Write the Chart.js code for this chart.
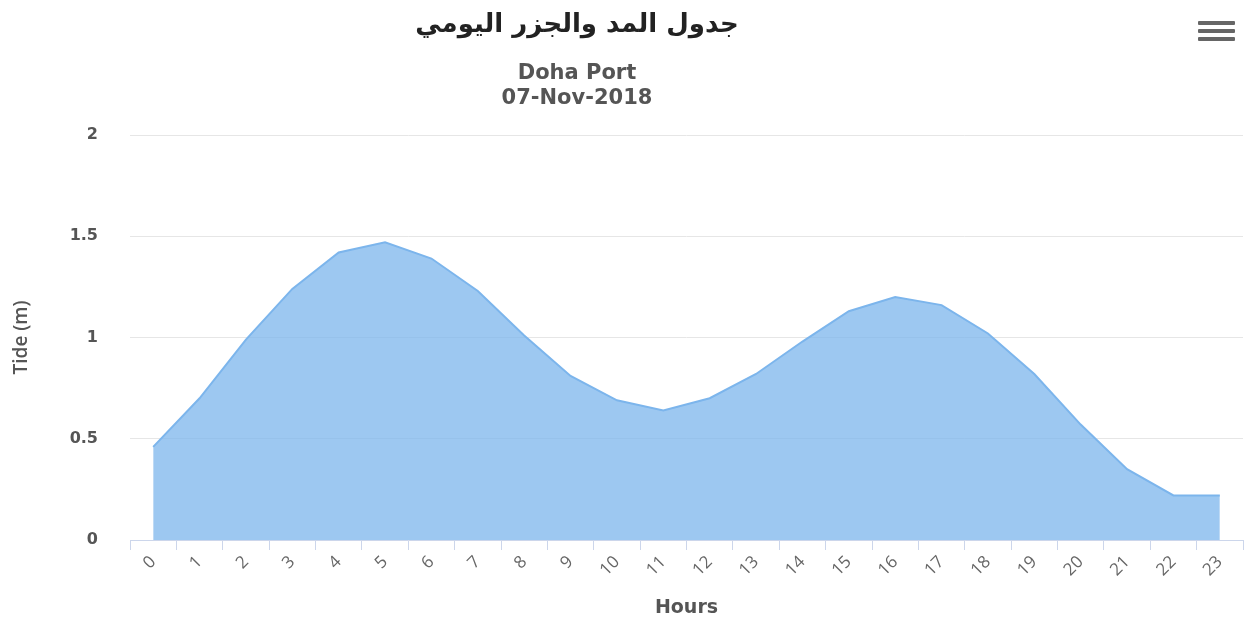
<!DOCTYPE html>
<html>
<head>
    <meta charset="utf-8">
    <title>جدول المد والجزر اليومي</title>
    <script src="https://cdn.jsdelivr.net/npm/chart.js"></script>
    <style>
        html, body {
            margin: 0;
            padding: 0;
            background: #fff;
        }
        .wrap {
            position: relative;
            width: 1254px;
            height: 626px;
        }
        .menu {
            position: absolute;
            left: 1198px;
            top: 21px;
            width: 37px;
        }
        .menu span {
            display: block;
            height: 4px;
            margin-bottom: 4px;
            background: #666;
            border-radius: 1px;
        }
    </style>
</head>
<body>
    <div class="wrap">
        <canvas id="tideChart" width="1254" height="626"></canvas>
        <div class="menu"><span></span><span></span><span></span></div>
    </div>

    <script>
        // Ore del giorno e altezza della marea (m)
        const hours = ['0', '1', '2', '3', '4', '5', '6', '7', '8', '9', '10', '11',
                       '12', '13', '14', '15', '16', '17', '18', '19', '20', '21', '22', '23'];
        const tide = [0.46, 0.70, 0.99, 1.24, 1.42, 1.47, 1.39, 1.23, 1.01, 0.81, 0.69, 0.64,
                      0.70, 0.82, 0.98, 1.13, 1.20, 1.16, 1.02, 0.82, 0.57, 0.35, 0.22, 0.22];
        const yTicks = [0, 0.5, 1, 1.5, 2];

        const titleText = 'جدول المد والجزر اليومي';
        const subtitleLines = ['Doha Port', '07-Nov-2018'];

        // Titolo e sottotitolo disegnati a mano per poterli centrare dove servono
        const headerPlugin = {
            id: 'header',
            afterDraw(chart) {
                const c = chart.ctx;
                c.save();
                c.textAlign = 'center';
                c.textBaseline = 'middle';
                c.fillStyle = '#222';
                c.font = 'bold 26px "DejaVu Sans", sans-serif';
                c.fillText(titleText, 577, 25);
                c.fillStyle = '#555';
                c.font = 'bold 21px "DejaVu Sans", sans-serif';
                c.fillText(subtitleLines[0], 577, 74);
                c.fillText(subtitleLines[1], 577, 99);
                c.restore();
            }
        };

        const ctx = document.getElementById('tideChart').getContext('2d');
        const chart = new Chart(ctx, {
            type: 'line',
            data: {
                labels: hours,
                datasets: [{
                    label: 'Tide',
                    data: tide,
                    borderColor: '#7cb5ec',
                    borderWidth: 2,
                    backgroundColor: 'rgba(124, 181, 236, 0.75)',
                    fill: 'origin',
                    tension: 0,
                    pointRadius: 0
                }]
            },
            options: {
                responsive: false,
                animation: false,
                layout: {
                    padding: { top: 135, left: 10, right: 11, bottom: 0 }
                },
                plugins: {
                    legend: { display: false },
                    tooltip: { enabled: false }
                },
                scales: {
                    x: {
                        offset: true,
                        grid: {
                            offset: true,
                            drawOnChartArea: false,
                            drawTicks: true,
                            tickLength: 10,
                            color: '#ccd6eb'
                        },
                        border: { color: '#ccd6eb' },
                        ticks: {
                            minRotation: 45,
                            maxRotation: 45,
                            autoSkip: false,
                            padding: 2,
                            color: '#666',
                            font: { family: '"Open Sans", sans-serif', size: 17 }
                        },
                        title: {
                            display: true,
                            text: 'Hours',
                            color: '#555',
                            padding: { top: 2, bottom: 7 },
                            font: { family: '"DejaVu Sans", sans-serif', size: 19, weight: 'bold' }
                        },
                        afterFit(scale) { scale.height = 86; }
                    },
                    y: {
                        min: 0,
                        max: 2,
                        afterBuildTicks(scale) {
                            scale.ticks = yTicks.map(v => ({ value: v }));
                        },
                        grid: {
                            color: '#e6e6e6',
                            drawTicks: false
                        },
                        border: { display: false },
                        ticks: {
                            padding: 32,
                            color: '#555',
                            callback: v => String(v),
                            font: { family: '"DejaVu Sans", sans-serif', size: 16, weight: 'bold' }
                        },
                        title: {
                            display: true,
                            text: 'Tide (m)',
                            color: '#555',
                            padding: { top: 0, bottom: 0 },
                            font: { family: '"Open Sans", sans-serif', size: 19, weight: '600' }
                        },
                        afterFit(scale) { scale.width = 120; }
                    }
                }
            },
            plugins: [headerPlugin]
        });
    </script>
</body>
</html>
